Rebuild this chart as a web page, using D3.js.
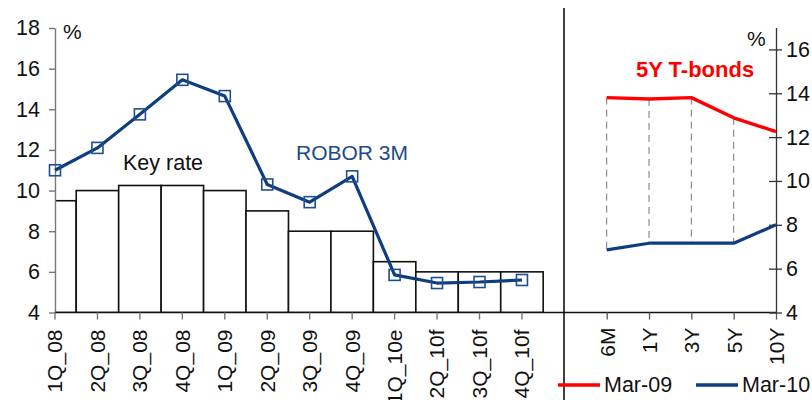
<!DOCTYPE html>
<html>
<head>
<meta charset="utf-8">
<script src="https://cdn.jsdelivr.net/npm/d3@7"></script>
<style>
  html, body { margin: 0; padding: 0; background: #fff; }
  svg { display: block; font-family: "Liberation Sans", Arial, Helvetica, sans-serif; }
</style>
</head>
<body>
<svg id="chart" width="812" height="400"></svg>
<script>
// Quarterly policy rate vs. 3M interbank rate
const quarters = ["1Q_08","2Q_08","3Q_08","4Q_08","1Q_09","2Q_09","3Q_09","4Q_09","1Q_10e","2Q_10f","3Q_10f","4Q_10f"];
const keyRate  = [9.5, 10, 10.25, 10.25, 10, 9, 8, 8, 6.5, 6, 6, 6];
const robor3m  = [11.0, 12.1, 13.75, 15.45, 14.65, 10.3, 9.43, 10.7, 5.85, 5.45, 5.5, 5.6];
const leftTicks = [4, 6, 8, 10, 12, 14, 16, 18];

// Government bond yield curve
const maturities = ["6M","1Y","3Y","5Y","10Y"];
const mar09 = [13.8, 13.74, 13.8, 12.88, 12.25];
const mar10 = [6.86, 7.16, 7.16, 7.16, 8.0];
const rightTicks = [4, 6, 8, 10, 12, 14, 16];

const navy = "#0f3d7e";
const navyText = "#1d4a8c";
const red = "#ff0000";
const FONT = "Liberation Sans, Arial, sans-serif";

const svg = d3.select("#chart");

// ---------- left panel ----------
const axisX = 55, baseY = 312.5;
const step = 42.45;
const xL = d3.scaleBand().domain(quarters)
  .range([axisX - step / 2, axisX - step / 2 + step * quarters.length]).padding(0);
const yL = d3.scaleLinear().domain([4, 18]).range([baseY, 28]);
const cx = d => xL(d) + xL.bandwidth() / 2;

svg.append("clipPath").attr("id", "leftClip")
  .append("rect").attr("x", axisX).attr("y", 0).attr("width", 564 - axisX).attr("height", baseY);

// key rate bars
svg.append("g").attr("clip-path", "url(#leftClip)")
  .selectAll("rect").data(quarters).join("rect")
  .attr("x", d => xL(d))
  .attr("width", xL.bandwidth())
  .attr("y", (d, i) => yL(keyRate[i]))
  .attr("height", (d, i) => yL(4) - yL(keyRate[i]))
  .attr("fill", "#fff")
  .attr("stroke", "#111")
  .attr("stroke-width", 1.6);

// left y axis
const gyL = svg.append("g").attr("transform", `translate(${axisX},0)`)
  .call(d3.axisLeft(yL).tickValues(leftTicks).tickSize(6).tickPadding(9).tickSizeOuter(0));
gyL.select(".domain").attr("stroke", "#777").attr("stroke-width", 1.4);
gyL.selectAll(".tick line").attr("stroke", "#777").attr("stroke-width", 1.4);
gyL.selectAll(".tick text").attr("font-size", 21.5).attr("fill", "#111")
  .attr("font-family", FONT);

// left x axis
svg.append("line").attr("x1", axisX).attr("x2", 564).attr("y1", baseY).attr("y2", baseY)
  .attr("stroke", "#111").attr("stroke-width", 1.6);
const gxL = svg.append("g").attr("transform", `translate(0,${baseY})`)
  .call(d3.axisBottom(xL).tickSize(7).tickSizeOuter(0));
gxL.select(".domain").remove();
gxL.selectAll(".tick line").attr("stroke", "#777").attr("stroke-width", 1.4);
gxL.selectAll(".tick text")
  .attr("font-size", 21).attr("fill", "#111")
  .attr("font-family", FONT)
  .attr("transform", "rotate(-90)")
  .attr("text-anchor", "end")
  .attr("x", -17).attr("y", 0).attr("dy", "0.35em");

// ROBOR line + square markers
const lineL = d3.line().x(d => cx(d)).y((d, i) => yL(robor3m[i]));
svg.append("path").datum(quarters)
  .attr("d", lineL)
  .attr("fill", "none").attr("stroke", navy).attr("stroke-width", 3.2)
  .attr("stroke-linejoin", "round");
svg.append("g").selectAll("rect").data(quarters).join("rect")
  .attr("x", d => cx(d) - 5.5)
  .attr("y", (d, i) => yL(robor3m[i]) - 5.5)
  .attr("width", 11).attr("height", 11)
  .attr("fill", "none").attr("stroke", "#1f4f91").attr("stroke-width", 1.6);

svg.append("text").attr("x", 63).attr("y", 39).attr("font-size", 21).attr("fill", "#111").text("%");
svg.append("text").attr("x", 123).attr("y", 170).attr("font-size", 21.5).attr("fill", "#111").text("Key rate");
svg.append("text").attr("x", 296).attr("y", 160).attr("font-size", 21).attr("fill", navyText).text("ROBOR 3M");

// divider
svg.append("line").attr("x1", 564).attr("x2", 564).attr("y1", 8).attr("y2", 400)
  .attr("stroke", "#111").attr("stroke-width", 1.6);

// ---------- right panel ----------
const rAxisX = 776;
const xR = d3.scalePoint().domain(maturities).range([606.7, rAxisX]);
const yR = d3.scaleLinear().domain([4, 17]).range([baseY, 27.5]);

// x axis of right panel
svg.append("line").attr("x1", 564).attr("x2", rAxisX).attr("y1", baseY).attr("y2", baseY)
  .attr("stroke", "#111").attr("stroke-width", 1.6);
const gxR = svg.append("g").attr("transform", `translate(0,${baseY})`)
  .call(d3.axisBottom(xR).tickSize(7).tickSizeOuter(0));
gxR.select(".domain").remove();
gxR.selectAll(".tick line").attr("stroke", "#555").attr("stroke-width", 1.3);
gxR.selectAll(".tick text")
  .attr("font-size", 21).attr("fill", "#111")
  .attr("font-family", FONT)
  .attr("transform", "rotate(-90)")
  .attr("text-anchor", "end")
  .attr("x", -15).attr("y", 0).attr("dy", "0.35em");

// right y axis with ticks crossing the line
const gyR = svg.append("g").attr("transform", `translate(${rAxisX},0)`)
  .call(d3.axisRight(yR).tickValues(rightTicks).tickSize(6).tickPadding(4).tickSizeOuter(0));
gyR.select(".domain").attr("stroke", "#333").attr("stroke-width", 1.3);
gyR.selectAll(".tick line").attr("x1", -7).attr("stroke", "#333").attr("stroke-width", 1.3);
gyR.selectAll(".tick text").attr("font-size", 21.5).attr("fill", "#111")
  .attr("font-family", FONT);

// dashed drop lines between the two curves
svg.append("g").selectAll("line").data(maturities.slice(0, 4)).join("line")
  .attr("x1", d => xR(d)).attr("x2", d => xR(d))
  .attr("y1", (d, i) => yR(mar09[i])).attr("y2", (d, i) => yR(mar10[i]))
  .attr("stroke", "#777").attr("stroke-width", 1).attr("stroke-dasharray", "7,5");

const lineR = arr => d3.line().x(d => xR(d)).y((d, i) => yR(arr[i]))(maturities);
svg.append("path").attr("d", lineR(mar09))
  .attr("fill", "none").attr("stroke", red).attr("stroke-width", 3.4).attr("stroke-linejoin", "round");
svg.append("path").attr("d", lineR(mar10))
  .attr("fill", "none").attr("stroke", navy).attr("stroke-width", 3.2).attr("stroke-linejoin", "round");

svg.append("text").attr("x", 747).attr("y", 46).attr("font-size", 21).attr("fill", "#111").text("%");
svg.append("text").attr("x", 636).attr("y", 77).attr("font-size", 22).attr("font-weight", "bold")
  .attr("fill", red).text("5Y T-bonds");

// legend
const legend = [
  { label: "Mar-09", color: red, x: 558 },
  { label: "Mar-10", color: navy, x: 696 }
];
const lg = svg.append("g").selectAll("g").data(legend).join("g");
lg.append("line").attr("x1", d => d.x).attr("x2", d => d.x + 42)
  .attr("y1", 385).attr("y2", 385).attr("stroke", d => d.color).attr("stroke-width", 3.4);
lg.append("text").attr("x", d => d.x + 46).attr("y", 392).attr("font-size", 21.5)
  .attr("fill", "#111").text(d => d.label);
</script>
</body>
</html>
